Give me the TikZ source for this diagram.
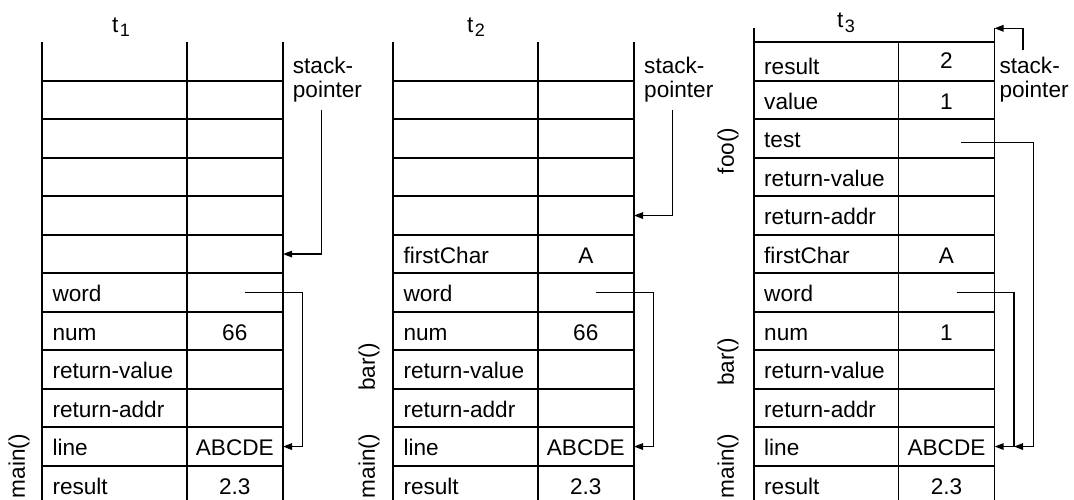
\documentclass[tikz,border=0pt]{standalone}
\usepackage{fontspec}
\setmainfont{Liberation Sans}
\usetikzlibrary{arrows.meta,calc,positioning}
\tikzset{
  gridline/.style={line width=1.8pt},
  ptr/.style={line width=1.5pt, -{Triangle[length=9pt,width=6.5pt]}},
  namecell/.style={anchor=west, inner sep=0pt, text height=18pt, text depth=0pt},
  valcell/.style={minimum width=96pt, minimum height=38.5pt, inner sep=0pt, text height=18pt, text depth=0pt},
  framelabel/.style={rotate=90, inner sep=0pt},
  splabel/.style={anchor=north west, align=left, inner sep=0pt},
}
\newcommand{\tlabel}[1]{t\kern1.5pt\raisebox{-4.5pt}{\fontsize{18}{18}\selectfont #1}}
\begin{document}
\begin{tikzpicture}[x=1pt,y=-1pt,font=\fontsize{22.6}{24}\selectfont]
\useasboundingbox (0,0) rectangle (1074,500);
% stack grids
\foreach \xa/\top in {42.3/42.3, 393.3/42.3, 754/28}{
  \draw[gridline] (\xa,\top) -- (\xa,500);
  \draw[gridline] (\xa+144.5,42.3) -- (\xa+144.5,500);
  \draw[gridline] (\xa+240.5,\top) -- (\xa+240.5,500);
  \foreach \i in {1,...,11}
    \draw[gridline] (\xa,42.3+38.5*\i) -- (\xa+240.5,42.3+38.5*\i);
}
\draw[gridline] (754,42.3) -- (994.5,42.3);
% titles
\node (t1title) at (121,27) {\tlabel{1}};
\node (t2title) at (476,27) {\tlabel{2}};
\node (t3title) at (846,23) {\tlabel{3}};
% t1 cells
\foreach \lab/\val [count=\i from 0] in {{}/{},{}/{},{}/{},{}/{},{}/{},{}/{},word/{},num/66,return-value/{},return-addr/{},line/ABCDE,result/2.3}{
  \node[namecell] (t1n\i) at (52.3,61.55+38.5*\i) {\lab};
  \node[valcell] (t1v\i) at (234.8,61.55+38.5*\i) {\val};
}
% t2 cells
\foreach \lab/\val [count=\i from 0] in {{}/{},{}/{},{}/{},{}/{},{}/{},firstChar/A,word/{},num/66,return-value/{},return-addr/{},line/ABCDE,result/2.3}{
  \node[namecell] (t2n\i) at (403.3,61.55+38.5*\i) {\lab};
  \node[valcell] (t2v\i) at (585.8,61.55+38.5*\i) {\val};
}
% t3 cells (first row set a bit off)
\node[namecell] (t3n0) at (764,66) {result};
\node[valcell] (t3v0) at (946.5,59.5) {2};
\foreach \lab/\val [count=\i from 1] in {value/1,test/{},return-value/{},return-addr/{},firstChar/A,word/{},num/1,return-value/{},return-addr/{},line/ABCDE,result/2.3}{
  \node[namecell] (t3n\i) at (764,61.55+38.5*\i) {\lab};
  \node[valcell] (t3v\i) at (946.5,61.55+38.5*\i) {\val};
}
% frame labels
\node[framelabel] (t1main) at (19,466) {main()};
\node[framelabel] (t2bar) at (369,367) {bar()};
\node[framelabel] (t2main) at (369,466) {main()};
\node[framelabel] (t3foo) at (728,151) {foo()};
\node[framelabel] (t3bar) at (728,362) {bar()};
\node[framelabel] (t3main) at (728,466) {main()};
% stack pointers
\node[splabel] (t1sp) at (292.7,57) {stack-\\pointer};
\node[splabel] (t2sp) at (644,57) {stack-\\pointer};
\node[splabel] (t3sp) at (999.3,57) {stack-\\pointer};
\coordinate (t1spfoot) at (321.7,110);
\coordinate (t2spfoot) at (672.7,110);
\coordinate (t3spfoot) at (1023,50);
\coordinate (t3top) at (994.5,28.3);
\draw[ptr] (t1spfoot) |- (t1v5.east);
\draw[ptr] (t2spfoot) |- (t2v4.east);
\draw[ptr] (t3spfoot) |- (t3top);
% pointer values
\coordinate (t1wordp) at (245,292.5);
\coordinate (t2wordp) at (595.7,292.5);
\coordinate (t3wordp) at (956.7,292.5);
\coordinate (t3testp) at (961,142.5);
\draw[ptr] (t1wordp) -- ++(57.3,0) |- (t1v10.east);
\draw[ptr] (t2wordp) -- ++(57.6,0) |- (t2v10.east);
\draw[ptr] (t3wordp) -- ++(57.3,0) coordinate (t3knee) |- (t3v10.east);
\draw[ptr] (t3testp) -- ++(72.3,0) |- (t3knee |- t3v10.east);
\end{tikzpicture}
\end{document}
